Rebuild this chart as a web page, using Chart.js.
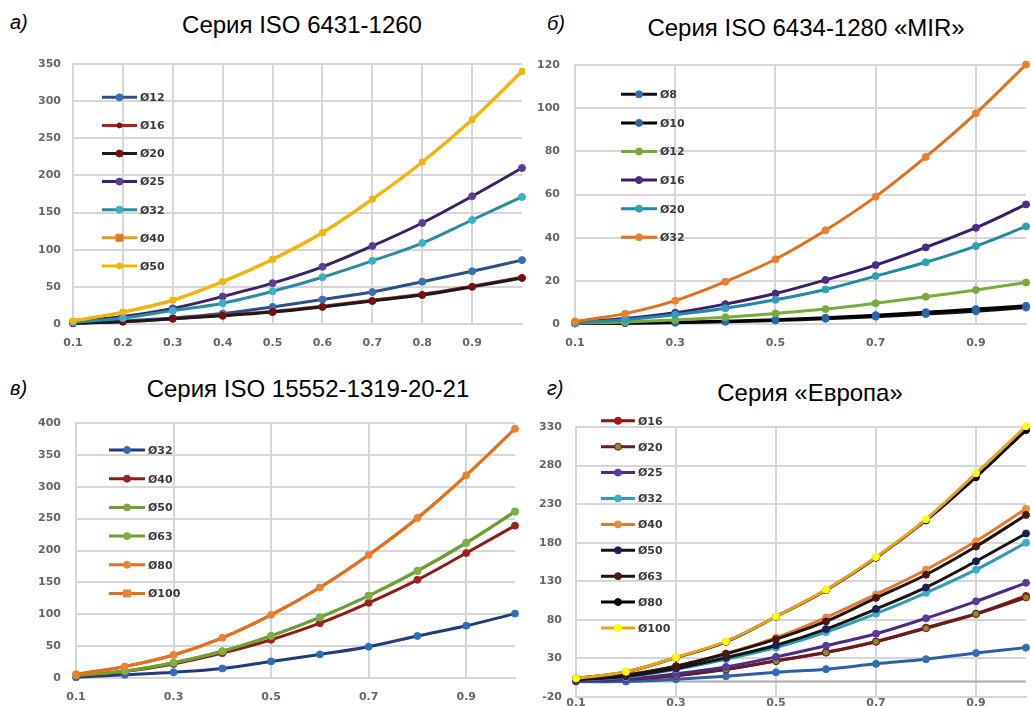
<!DOCTYPE html>
<html>
<head>
<meta charset="utf-8">
<script src="https://cdn.jsdelivr.net/npm/chart.js@4.4.0/dist/chart.umd.min.js"></script>
<style>
body{margin:0;width:1031px;height:706px;background:#fff;position:relative;overflow:hidden;font-family:"Liberation Sans",Arial,sans-serif}
canvas{position:absolute}
.ttl{position:absolute;width:400px;text-align:center;font-size:24px;line-height:24px;color:#000;white-space:nowrap}
.lbl{position:absolute;font-size:20px;line-height:20px;font-style:italic;color:#000}
</style>
</head>
<body>
<div class="lbl" style="left:10px;top:12px">а)</div>
<div class="ttl" style="left:102px;top:13px">Серия ISO 6431-1260</div>
<div class="lbl" style="left:547px;top:13px">б)</div>
<div class="ttl" style="left:606px;top:16px">Серия ISO 6434-1280 «MIR»</div>
<div class="lbl" style="left:10px;top:378px">в)</div>
<div class="ttl" style="left:108px;top:377px">Серия ISO 15552-1319-20-21</div>
<div class="lbl" style="left:547px;top:378px">г)</div>
<div class="ttl" style="left:610px;top:381px">Серия «Европа»</div>

<canvas id="chA" width="527" height="306" style="left:0;top:44px"></canvas>
<canvas id="chB" width="504" height="306" style="left:527px;top:44px"></canvas>
<canvas id="chV" width="520" height="306" style="left:0;top:400px"></canvas>
<canvas id="chG" width="504" height="289" style="left:527px;top:417px"></canvas>

<script>
// x values shared by all four panels
const xVals = [0.1, 0.2, 0.3, 0.4, 0.5, 0.6, 0.7, 0.8, 0.9, 1.0];
const xTicksA = [0.1, 0.2, 0.3, 0.4, 0.5, 0.6, 0.7, 0.8, 0.9];
const xTicksOdd = [0.1, 0.3, 0.5, 0.7, 0.9];

// а) ISO 6431-1260
const yTicksA = [0, 50, 100, 150, 200, 250, 300, 350];
const a12 = [1, 4, 8, 14, 23, 33, 43, 57, 71, 86];
const a16 = [1, 3, 7, 12, 17, 24, 32, 40, 51, 63];
const a20 = [1, 3, 7, 11, 16, 23, 31, 39, 50, 62];
const a25 = [3, 10, 21, 37, 55, 77, 105, 136, 172, 210];
const a32 = [2, 8, 18, 28, 44, 63, 85, 109, 140, 171];
const a40 = [4, 16, 32, 57, 87, 123, 168, 218, 275, 340];
const a50 = [4, 16, 32, 57, 87, 123, 168, 218, 275, 340];

// б) ISO 6434-1280 MIR
const yTicksB = [0, 20, 40, 60, 80, 100, 120];
const b8 = [0.2, 0.4, 0.6, 1.0, 1.6, 2.4, 3.4, 4.6, 5.9, 7.6];
const b10 = [0.3, 0.5, 0.8, 1.3, 2.0, 2.9, 4.1, 5.5, 6.9, 8.4];
const b12 = [0.4, 0.9, 1.9, 3.1, 4.9, 6.9, 9.6, 12.6, 15.8, 19.2];
const b16 = [0.8, 2.5, 5.2, 9.2, 14.1, 20.4, 27.3, 35.5, 44.6, 55.4];
const b20 = [0.6, 2.0, 4.3, 7.3, 11.2, 16.0, 22.2, 28.6, 36.1, 45.2];
const b32 = [1.2, 4.8, 10.8, 19.6, 30.0, 43.4, 59.0, 77.4, 97.6, 120.2];

// в) ISO 15552-1319-20-21
const yTicksV = [0, 50, 100, 150, 200, 250, 300, 350, 400];
const v32 = [1, 5, 9, 15, 26, 37, 49, 66, 82, 101];
const v40 = [3, 10, 22, 39, 60, 86, 118, 154, 196, 239];
const v50 = [4, 11, 24, 42, 66, 95, 129, 168, 212, 261];
const v63 = [4, 11, 24, 42, 66, 95, 129, 168, 212, 261];
const v80 = [6, 18, 36, 63, 99, 142, 193, 251, 318, 391];
const v100 = [6, 18, 36, 63, 99, 142, 193, 251, 318, 391];

// г) Европа
const yTicksG = [-20, 30, 80, 130, 180, 230, 280, 330];
const g12 = [0, 0, 3, 7, 12, 16, 23, 29, 37, 44];
const g16 = [1, 3, 8, 16, 27, 38, 52, 70, 88, 111];
const g20 = [1, 3, 7.5, 15.5, 26.5, 37.5, 51.5, 69, 87.5, 109];
const g25 = [1, 3, 10, 19, 32, 46.5, 62, 82, 104, 128];
const g32 = [2, 6, 16, 29, 44, 64, 88, 115, 145, 180];
const g40 = [3, 9, 20, 36.5, 57, 83, 113, 145, 182, 224];
const g50 = [2, 7, 17, 31, 47, 68, 94, 122, 156, 192];
const g63 = [3, 8.5, 20, 36, 55, 78, 108.5, 138.5, 175, 216];
const g80 = [4, 12.5, 31, 51.5, 84, 118.5, 160.5, 209, 265, 326];
const g100 = [4, 12.7, 31.3, 52, 84.2, 119, 161.4, 210.4, 270, 331];

function pts(arr) {
    return arr.map((v, i) => ({x: xVals[i], y: v}));
}

function ds(label, data, line, fill, border, shape, r) {
    return {
        label: label,
        data: pts(data),
        borderColor: line,
        backgroundColor: fill,
        pointBackgroundColor: fill,
        pointBorderColor: border || fill,
        pointStyle: shape || 'circle',
        pointRadius: r || 3.5,
        pointBorderWidth: 1,
        borderWidth: 3,
        tension: 0.35,
        clip: false
    };
}

// legend drawn inside the plot, excel style
const sideLegend = {
    id: 'sideLegend',
    afterDraw(chart, args, o) {
        if (!o || o.x1 === undefined) return;
        const ctx = chart.ctx;
        ctx.save();
        chart.data.datasets.forEach((d, i) => {
            const y = o.y + i * o.gap;
            ctx.strokeStyle = d.borderColor;
            ctx.lineWidth = 3;
            ctx.beginPath();
            ctx.moveTo(o.x1, y);
            ctx.lineTo(o.x2, y);
            ctx.stroke();
            const cx = (o.x1 + o.x2) / 2;
            const r = d.pointRadius;
            ctx.fillStyle = d.pointBackgroundColor;
            ctx.strokeStyle = d.pointBorderColor;
            ctx.lineWidth = 1;
            ctx.beginPath();
            if (d.pointStyle === 'rect') {
                ctx.rect(cx - r, y - r, 2 * r, 2 * r);
            } else {
                ctx.arc(cx, y, r, 0, Math.PI * 2);
            }
            ctx.fill();
            ctx.stroke();
            ctx.fillStyle = '#3a3a3a';
            ctx.font = 'bold 11px "DejaVu Sans"';
            ctx.textBaseline = 'middle';
            ctx.fillText(d.label, o.x2 + 3, y + 1);
        });
        ctx.restore();
    }
};

const zeroLine = {
    id: 'zeroLine',
    beforeDatasetsDraw(chart, args, o) {
        if (!o || !o.color) return;
        const ctx = chart.ctx;
        const a = chart.chartArea;
        const y = chart.scales.y.getPixelForValue(0);
        ctx.save();
        ctx.strokeStyle = o.color;
        ctx.lineWidth = 2;
        ctx.beginPath();
        ctx.moveTo(a.left, y);
        ctx.lineTo(a.right, y);
        ctx.stroke();
        ctx.restore();
    }
};

const tickFont = {family: 'DejaVu Sans', size: 11, weight: 'bold'};
const gridCol = '#d6d6d6';

function makeChart(id, sets, xt, yt, g, leg, zero) {
    sets.forEach((d, i) => { d.order = sets.length - i; });
    return new Chart(document.getElementById(id), {
        type: 'line',
        data: {datasets: sets},
        options: {
            responsive: false,
            animation: false,
            devicePixelRatio: 1,
            layout: {padding: {top: g.top, right: g.right, left: 0, bottom: 0}},
            plugins: {
                legend: {display: false},
                tooltip: {enabled: false},
                sideLegend: leg,
                zeroLine: zero || {}
            },
            scales: {
                x: {
                    type: 'linear',
                    min: 0.1,
                    max: 1.0,
                    afterBuildTicks: s => { s.ticks = xt.map(v => ({value: v})); },
                    afterFit: s => { s.height = g.xh; s.paddingLeft = 0; s.paddingRight = 0; },
                    grid: {color: gridCol, lineWidth: 2, drawTicks: false},
                    border: {color: gridCol, width: 2},
                    ticks: {padding: g.xp, color: '#666', font: tickFont, autoSkip: false, maxRotation: 0,
                        callback: v => v.toFixed(1)}
                },
                y: {
                    min: yt[0],
                    max: yt[yt.length - 1],
                    afterBuildTicks: s => { s.ticks = yt.map(v => ({value: v})); },
                    afterFit: s => { s.width = g.yw; s.paddingTop = 0; s.paddingBottom = 0; },
                    grid: {color: gridCol, lineWidth: 2, drawTicks: false},
                    border: {color: gridCol, width: 2},
                    ticks: {padding: g.yp, color: '#666', font: tickFont, autoSkip: false}
                }
            }
        },
        plugins: [sideLegend, zeroLine]
    });
}

makeChart('chA', [
    ds('Ø12', a12, '#2c4f8c', '#3a6fb0'),
    ds('Ø16', a16, '#b42020', '#7a1010', null, 'circle', 2.5),
    ds('Ø20', a20, '#1a1a1a', '#7a0e0e'),
    ds('Ø25', a25, '#3b2266', '#5d3d94'),
    ds('Ø32', a32, '#2a8ca0', '#3aaecb'),
    ds('Ø40', a40, '#e59c1c', '#e0782a', null, 'rect', 3.5),
    ds('Ø50', a50, '#f2b600', '#f2b600', null, 'circle', 3)
], xTicksA, yTicksA,
    {top: 20, right: 2, yw: 73, xh: 26, xp: 13, yp: 12},
    {x1: 102, x2: 137, y: 53.3, gap: 28.1});

makeChart('chB', [
    ds('Ø8', b8, '#111111', '#2f6db5'),
    ds('Ø10', b10, '#000000', '#2a64ad'),
    ds('Ø12', b12, '#79aa3a', '#79aa3a'),
    ds('Ø16', b16, '#3a1d6b', '#4b2b85'),
    ds('Ø20', b20, '#2189a8', '#2f9fc0'),
    ds('Ø32', b32, '#e2711d', '#ea7f2c')
], xTicksOdd, yTicksB,
    {top: 21, right: 2, yw: 48, xh: 26, xp: 13, yp: 15},
    {x1: 94, x2: 130, y: 50.3, gap: 28.6});

makeChart('chV', [
    ds('Ø32', v32, '#1f3c7e', '#2f6db5'),
    ds('Ø40', v40, '#8c1c1c', '#9e2020'),
    ds('Ø50', v50, '#6f9e32', '#79aa3a'),
    ds('Ø63', v63, '#6f9e32', '#7cb040'),
    ds('Ø80', v80, '#e2711d', '#ea8434'),
    ds('Ø100', v100, '#e2711d', '#ea8434', null, 'rect', 3.5)
], xTicksOdd, yTicksV,
    {top: 23, right: 4, yw: 76, xh: 28, xp: 13, yp: 15},
    {x1: 109, x2: 145, y: 50, gap: 28.7});

makeChart('chG', [
    ds('Ø12', g12, '#2d5fa5', '#2f6db5'),
    ds('Ø16', g16, '#7a1a1a', '#b01010'),
    ds('Ø20', g20, '#6a1c1c', '#8a8a2a', '#6a1c1c'),
    ds('Ø25', g25, '#4a2a86', '#5a3a9a'),
    ds('Ø32', g32, '#2e9cb5', '#3aaecb'),
    ds('Ø40', g40, '#e6782e', '#ec8a40'),
    ds('Ø50', g50, '#151515', '#1b2252'),
    ds('Ø63', g63, '#1f1210', '#4a1810'),
    ds('Ø80', g80, '#000000', '#000000'),
    ds('Ø100', g100, '#e8a31c', '#ffff00')
], xTicksOdd, yTicksG,
    {top: 10, right: 4, yw: 49, xh: 9, xp: 0, yp: 14},
    {x1: 74, x2: 108, y: -22.1, gap: 25.9},
    {color: '#a8a8a8'});
</script>
</body>
</html>
